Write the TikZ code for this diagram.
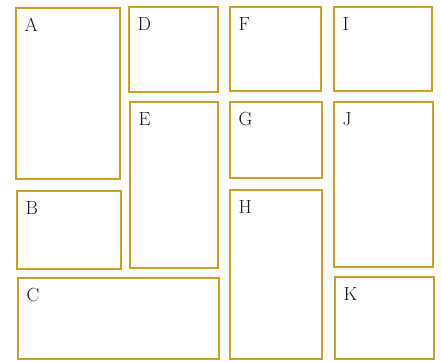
\documentclass[tikz,border=0pt]{standalone}
\begin{document}
\definecolor{gold}{HTML}{CC9E2C}
\begin{tikzpicture}[x=1pt,y=-1pt,
  panel/.style={draw=gold,line width=2pt},
  lbl/.style={anchor=north west,inner sep=0pt,font=\fontsize{19}{19}\selectfont,text=black!90}]
\useasboundingbox (0,0) rectangle (441,361);
\newcommand{\panelbox}[6]{%
  \draw[panel] (#1,#2) rectangle (#3,#4);
  \node[lbl] (#5) at (#1+8.5,#2+10) {#6};}
\panelbox{16}{8}{120}{179}{A}{A}
\panelbox{17}{191}{121}{269}{B}{B}
\panelbox{18}{278}{219}{359}{C}{C}
\panelbox{129}{7}{218}{92}{D}{D}
\panelbox{130}{102}{218}{268}{E}{E}
\panelbox{230}{7}{321}{91}{F}{F}
\panelbox{230}{102}{322}{178}{G}{G}
\panelbox{230}{190}{322}{359}{H}{H}
\panelbox{334}{7}{432}{91}{I}{I}
\panelbox{334}{102}{433}{267}{J}{J}
\panelbox{335}{277}{434}{359}{K}{K}
\end{tikzpicture}
\end{document}
